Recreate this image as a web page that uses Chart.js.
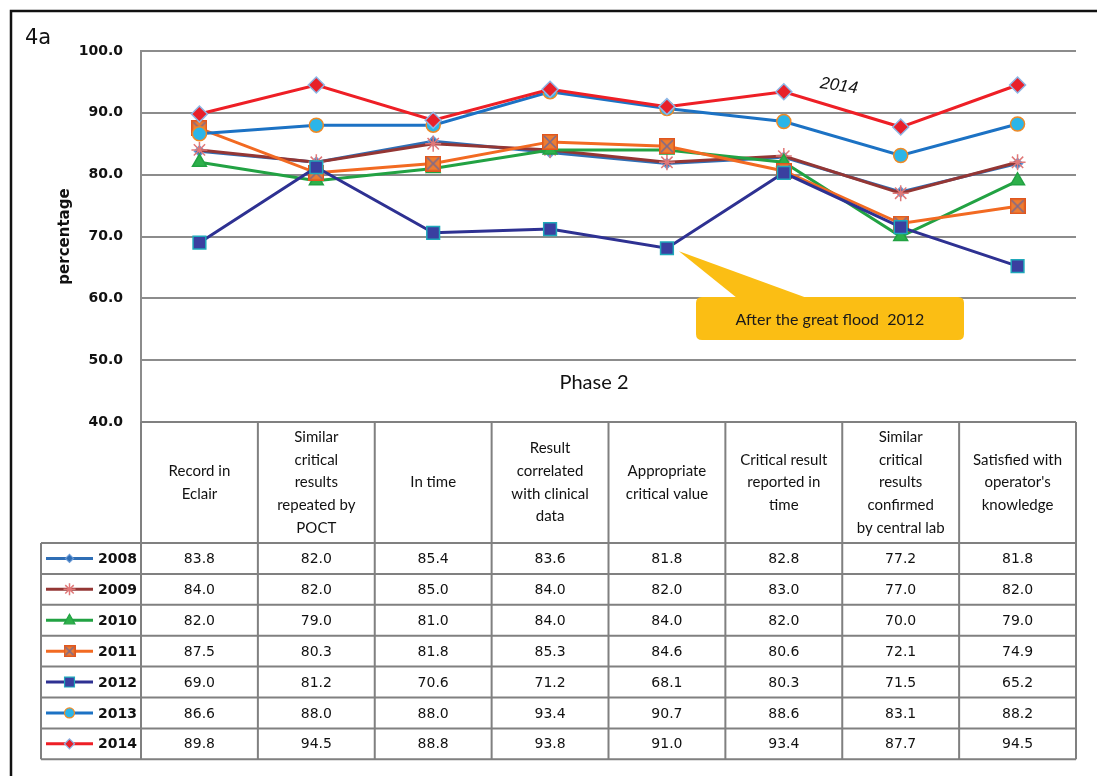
<!DOCTYPE html>
<html>
<head>
<meta charset="utf-8">
<script src="https://cdn.jsdelivr.net/npm/chart.js@4.4.1/dist/chart.umd.min.js"></script>
<style>
  html, body { margin: 0; padding: 0; background: #ffffff; }
  #wrap { width: 1097px; height: 776px; position: relative; }
</style>
</head>
<body>
<div id="wrap"><canvas id="c" width="1097" height="776"></canvas></div>
<script>
// ---------- DATA ----------
const categories = [
  'Record in Eclair',
  'Similar critical results repeated by POCT',
  'In time',
  'Result correlated with clinical data',
  'Appropriate critical value',
  'Critical result reported in time',
  'Similar critical results confirmed by central lab',
  "Satisfied with operator's knowledge"
];
const headerLines = [
  ['Record in', 'Eclair'],
  ['Similar', 'critical', 'results', 'repeated by', 'POCT'],
  ['In time'],
  ['Result', 'correlated', 'with clinical', 'data'],
  ['Appropriate', 'critical value'],
  ['Critical result', 'reported in', 'time'],
  ['Similar', 'critical', 'results', 'confirmed', 'by central lab'],
  ['Satisfied with', "operator's", 'knowledge']
];
const years = ['2008', '2009', '2010', '2011', '2012', '2013', '2014'];
const s2008 = [83.8, 82.0, 85.4, 83.6, 81.8, 82.8, 77.2, 81.8];
const s2009 = [84.0, 82.0, 85.0, 84.0, 82.0, 83.0, 77.0, 82.0];
const s2010 = [82.0, 79.0, 81.0, 84.0, 84.0, 82.0, 70.0, 79.0];
const s2011 = [87.5, 80.3, 81.8, 85.3, 84.6, 80.6, 72.1, 74.9];
const s2012 = [69.0, 81.2, 70.6, 71.2, 68.1, 80.3, 71.5, 65.2];
const s2013 = [86.6, 88.0, 88.0, 93.4, 90.7, 88.6, 83.1, 88.2];
const s2014 = [89.8, 94.5, 88.8, 93.8, 91.0, 93.4, 87.7, 94.5];
const yTicks = [40, 50, 60, 70, 80, 90, 100];
const axisTitle = 'percentage';
const panelLabel = '4a';
const phaseLabel = 'Phase 2';
const calloutText = 'After the great flood  2012';
const calloutCategory = 4;   // points at 2012 value in this column
const seriesLabel2014 = '2014';
const allSeries = [s2008, s2009, s2010, s2011, s2012, s2013, s2014];

// ---------- STYLES ----------
function makeXSquare(size) {
  const cv = document.createElement('canvas');
  cv.width = size; cv.height = size;
  const g = cv.getContext('2d');
  g.fillStyle = '#ED7D31';
  g.fillRect(0, 0, size, size);
  g.strokeStyle = '#E0561E';
  g.lineWidth = 1.5;
  g.strokeRect(0.75, 0.75, size - 1.5, size - 1.5);
  g.strokeStyle = '#7C6A8E';
  g.lineWidth = 1.6;
  g.beginPath();
  g.moveTo(2, 2); g.lineTo(size - 2, size - 2);
  g.moveTo(size - 2, 2); g.lineTo(2, size - 2);
  g.stroke();
  return cv;
}
const xSq = makeXSquare(16);
const xSqSmall = makeXSquare(12);

const styles = [
  { line: '#2F6EB5', bg: '#2F6EB5', bd: '#6A9AD6', ps: 'rectRot', r: 5, lr: 4 },
  { line: '#943634', bg: '#943634', bd: '#E07878', ps: 'star', r: 8, lr: 6 },
  { line: '#22A243', bg: '#2DB04A', bd: '#22A243', ps: 'triangle', r: 8, lr: 6 },
  { line: '#F26A22', bg: '#ED7D31', bd: '#E0561E', ps: xSq, r: 8, lr: 6, lps: xSqSmall },
  { line: '#2E3192', bg: '#3A3FA0', bd: '#1FA8BA', ps: 'rect', r: 9, lr: 7 },
  { line: '#1C72C4', bg: '#2CB5E8', bd: '#EE8A26', ps: 'circle', r: 7, lr: 5 },
  { line: '#EE1F26', bg: '#E8202A', bd: '#8DB6E6', ps: 'rectRot', r: 8, lr: 5 }
];

const datasets = allSeries.map((d, i) => ({
  label: years[i],
  data: d,
  borderColor: styles[i].line,
  borderWidth: 3,
  backgroundColor: styles[i].bg,
  pointBackgroundColor: styles[i].bg,
  pointBorderColor: styles[i].bd,
  pointBorderWidth: 1.5,
  pointStyle: styles[i].ps,
  pointRadius: styles[i].r,
  tension: 0,
  fill: false,
  order: 6 - i
}));

// legend marker drawer (simple shapes)
function drawMarker(ctx, st, x, y) {
  const r = st.lr;
  ctx.save();
  ctx.fillStyle = st.bg;
  ctx.strokeStyle = st.bd;
  ctx.lineWidth = 1.2;
  ctx.beginPath();
  if (st.lps) {
    ctx.drawImage(st.lps, x - st.lps.width / 2, y - st.lps.height / 2);
    ctx.restore();
    return;
  }
  if (st.ps === 'rectRot') {
    ctx.moveTo(x, y - r); ctx.lineTo(x + r, y); ctx.lineTo(x, y + r); ctx.lineTo(x - r, y); ctx.closePath();
    ctx.fill(); ctx.stroke();
  } else if (st.ps === 'rect') {
    const s = r * Math.SQRT1_2;
    ctx.rect(x - s, y - s, 2 * s, 2 * s);
    ctx.fill(); ctx.stroke();
  } else if (st.ps === 'circle') {
    ctx.arc(x, y, r, 0, Math.PI * 2);
    ctx.fill(); ctx.stroke();
  } else if (st.ps === 'triangle') {
    ctx.moveTo(x, y - r); ctx.lineTo(x + r * 0.9, y + r * 0.6); ctx.lineTo(x - r * 0.9, y + r * 0.6); ctx.closePath();
    ctx.fill(); ctx.stroke();
  } else if (st.ps === 'star') {
    for (let k = 0; k < 4; k++) {
      const a = k * Math.PI / 4;
      ctx.moveTo(x - r * Math.cos(a), y - r * Math.sin(a));
      ctx.lineTo(x + r * Math.cos(a), y + r * Math.sin(a));
    }
    ctx.lineWidth = 1.5;
    ctx.stroke();
  }
  ctx.restore();
}

// ---------- GEOMETRY (layout only) ----------
const G = {
  plotLeft: 141, plotRight: 1076, plotTop: 51, plotBottom: 422,
  headerBottom: 543, rowH: 30.9, legendLeft: 41,
  gridColor: '#8C8C8C', tableColor: '#808080'
};

const extrasPlugin = {
  id: 'extras',
  beforeDraw(chart) {
    const ctx = chart.ctx;
    ctx.save();
    ctx.fillStyle = '#ffffff';
    ctx.fillRect(0, 0, chart.width, chart.height);
    ctx.strokeStyle = '#111111';
    ctx.lineWidth = 2.5;
    ctx.beginPath();
    ctx.moveTo(11, 776); ctx.lineTo(11, 11); ctx.lineTo(1097, 11);
    ctx.stroke();
    ctx.fillStyle = '#111111';
    ctx.font = '21px "DejaVu Sans"';
    ctx.textAlign = 'left';
    ctx.textBaseline = 'alphabetic';
    ctx.fillText(panelLabel, 25, 44);
    ctx.restore();
  },
  afterDatasetsDraw(chart) {
    const ctx = chart.ctx;
    const xs = chart.scales.x, ys = chart.scales.y;
    ctx.save();
    ctx.fillStyle = '#111111';
    ctx.font = '20px Lato';
    ctx.textAlign = 'center';
    ctx.textBaseline = 'middle';
    ctx.fillText(phaseLabel, 594, 383);
    ctx.save();
    ctx.translate(839, 86);
    ctx.rotate(8 * Math.PI / 180);
    ctx.font = 'italic 17px "Liberation Sans"';
    ctx.fillText(seriesLabel2014, 0, 0);
    ctx.restore();
    const tipX = xs.getPixelForValue(calloutCategory) + 12;
    const tipY = ys.getPixelForValue(s2012[calloutCategory]) + 3;
    const bx = 696, by = 297, bw = 268, bh = 43, rr = 6;
    ctx.fillStyle = '#FBBE14';
    ctx.beginPath();
    ctx.moveTo(tipX, tipY);
    ctx.lineTo(807, by + 1);
    ctx.lineTo(737, by + 1);
    ctx.closePath();
    ctx.fill();
    ctx.beginPath();
    ctx.moveTo(bx + rr, by);
    ctx.lineTo(bx + bw - rr, by);
    ctx.quadraticCurveTo(bx + bw, by, bx + bw, by + rr);
    ctx.lineTo(bx + bw, by + bh - rr);
    ctx.quadraticCurveTo(bx + bw, by + bh, bx + bw - rr, by + bh);
    ctx.lineTo(bx + rr, by + bh);
    ctx.quadraticCurveTo(bx, by + bh, bx, by + bh - rr);
    ctx.lineTo(bx, by + rr);
    ctx.quadraticCurveTo(bx, by, bx + rr, by);
    ctx.closePath();
    ctx.fill();
    ctx.fillStyle = '#1a1a1a';
    ctx.font = '16px Lato';
    ctx.textAlign = 'center';
    ctx.textBaseline = 'middle';
    ctx.fillText(calloutText, bx + bw / 2, by + bh / 2 + 1);
    ctx.restore();
  },
  afterDraw(chart) {
    const ctx = chart.ctx;
    const xs = chart.scales.x;
    const ca = chart.chartArea;
    const colW = xs.getPixelForValue(1) - xs.getPixelForValue(0);
    const rowsTop = G.headerBottom;
    const tableBottom = rowsTop + G.rowH * years.length;
    ctx.save();
    ctx.strokeStyle = G.tableColor;
    ctx.lineWidth = 2;
    ctx.beginPath();
    ctx.moveTo(ca.left, ca.bottom); ctx.lineTo(ca.right, ca.bottom);
    ctx.moveTo(ca.left, ca.bottom); ctx.lineTo(ca.left, tableBottom);
    for (let i = 0; i < categories.length; i++) {
      const xr = xs.getPixelForValue(i) + colW / 2;
      ctx.moveTo(xr, ca.bottom); ctx.lineTo(xr, tableBottom);
    }
    ctx.moveTo(G.legendLeft, rowsTop); ctx.lineTo(G.legendLeft, tableBottom);
    for (let r = 0; r <= years.length; r++) {
      const y = rowsTop + r * G.rowH;
      ctx.moveTo(G.legendLeft, y); ctx.lineTo(ca.right, y);
    }
    ctx.stroke();

    ctx.fillStyle = '#111111';
    ctx.font = '15px Lato';
    ctx.textAlign = 'center';
    ctx.textBaseline = 'middle';
    const lh = 22.6;
    const hc = (ca.bottom + G.headerBottom) / 2;
    headerLines.forEach((lines, i) => {
      const cx = xs.getPixelForValue(i);
      const y0 = hc - (lines.length - 1) * lh / 2;
      lines.forEach((t, k) => ctx.fillText(t, cx, y0 + k * lh));
    });

    allSeries.forEach((vals, r) => {
      const cy = rowsTop + r * G.rowH + G.rowH / 2;
      ctx.fillStyle = '#111111';
      ctx.font = '14px "DejaVu Sans"';
      ctx.textAlign = 'center';
      vals.forEach((v, i) => ctx.fillText(v.toFixed(1), xs.getPixelForValue(i), cy + 1));
      const st = styles[r];
      ctx.strokeStyle = st.line;
      ctx.lineWidth = 3;
      ctx.beginPath();
      ctx.moveTo(46, cy); ctx.lineTo(93, cy);
      ctx.stroke();
      drawMarker(ctx, st, 69.5, cy);
      ctx.fillStyle = '#111111';
      ctx.font = 'bold 14px "DejaVu Sans"';
      ctx.textAlign = 'left';
      ctx.fillText(years[r], 98, cy + 1);
    });
    ctx.restore();
  }
};

new Chart(document.getElementById('c'), {
  type: 'line',
  data: { labels: categories, datasets },
  plugins: [extrasPlugin],
  options: {
    responsive: false,
    animation: false,
    layout: { padding: { left: 0, top: G.plotTop, right: 1097 - G.plotRight, bottom: 776 - G.plotBottom } },
    plugins: { legend: { display: false }, tooltip: { enabled: false } },
    scales: {
      x: { type: 'category', offset: true, display: false },
      y: {
        min: 40, max: 100,
        afterFit(s) { s.width = G.plotLeft; },
        afterBuildTicks(s) { s.ticks = yTicks.map(v => ({ value: v })); },
        ticks: {
          padding: 18,
          color: '#111111',
          font: { family: 'DejaVu Sans', size: 14, weight: 'bold' },
          callback: v => Number(v).toFixed(1)
        },
        grid: { color: G.gridColor, lineWidth: 2, drawTicks: false },
        border: { display: true, color: G.gridColor, width: 2 },
        title: {
          display: true, text: axisTitle, color: '#111111',
          font: { family: 'DejaVu Sans', size: 15, weight: 'bold' },
          padding: { top: 56, bottom: 0 }
        }
      }
    }
  }
});
</script>
</body>
</html>
